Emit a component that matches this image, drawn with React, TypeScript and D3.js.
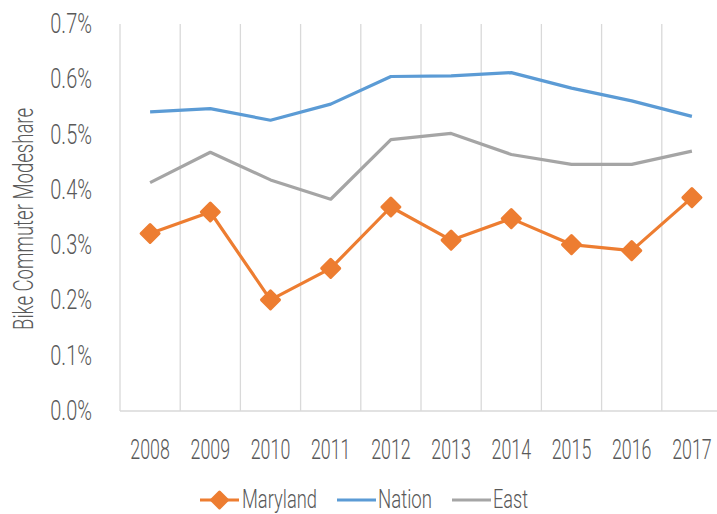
import React from "react";
import * as d3 from "d3";

const years = ["2008", "2009", "2010", "2011", "2012", "2013", "2014", "2015", "2016", "2017"];
const maryland = [0.321, 0.36, 0.201, 0.258, 0.369, 0.309, 0.348, 0.301, 0.29, 0.386];
const nation = [0.541, 0.547, 0.526, 0.555, 0.605, 0.606, 0.612, 0.584, 0.561, 0.533];
const east = [0.413, 0.468, 0.418, 0.383, 0.491, 0.502, 0.464, 0.446, 0.446, 0.47];
const yTicks = [0, 0.1, 0.2, 0.3, 0.4, 0.5, 0.6, 0.7];
const yTitle = "Bike Commuter Modeshare";

const W = 717;
const H = 514;
const left = 120;
const right = 722;
const top = 24;
const bottom = 411;
const FONT = "Roboto, 'Liberation Sans', sans-serif";
const TXT = "#595959";

const series = [
  { name: "Maryland", values: maryland, color: "#ED7D31", marker: true, lx: 200, tx: 242, tw: 75 },
  { name: "Nation", values: nation, color: "#5B9BD5", marker: false, lx: 337, tx: 378, tw: 54 },
  { name: "East", values: east, color: "#A5A5A5", marker: false, lx: 452, tx: 493, tw: 35 },
];

function Label({ x, y, text, anchor = "middle", size = 27, sx = 0.66, rotate = 0, len }: any) {
  return (
    <text
      transform={`translate(${x},${y}) rotate(${rotate}) scale(${len ? 1 : sx},1)`}
      textAnchor={anchor}
      fontFamily={FONT}
      fontWeight={300}
      fontSize={size}
      fill={TXT}
      textLength={len}
      lengthAdjust={len ? "spacingAndGlyphs" : undefined}
    >
      {text}
    </text>
  );
}

function diamond(cx: number, cy: number, r: number) {
  return `M${cx},${cy - r}L${cx + r},${cy}L${cx},${cy + r}L${cx - r},${cy}Z`;
}

export default function App() {
  const x = d3.scaleBand<string>().domain(years).range([left, right]);
  const y = d3.scaleLinear().domain([0, 0.7]).range([bottom, top]);
  const cx = (d: string) => (x(d) as number) + x.bandwidth() / 2;
  const line = d3
    .line<number>()
    .x((_, i) => cx(years[i]))
    .y((v) => y(v));

  const gridXs = years.map((d) => x(d) as number).concat([right]);
  const ly = 500;

  return (
    <svg width={W} height={H} style={{ position: "absolute", left: 0, top: 0, background: "#fff" }}>
      {gridXs.map((gx, i) => (
        <line key={i} x1={gx} x2={gx} y1={top} y2={bottom} stroke="#D9D9D9" strokeWidth={1.3} />
      ))}
      <line x1={left} x2={right} y1={bottom} y2={bottom} stroke="#D9D9D9" strokeWidth={1.3} />

      {yTicks.map((t) => (
        <Label key={t} x={92} y={y(t) + 9} text={`${t.toFixed(1)}%`} anchor="end" sx={0.74} />
      ))}
      {years.map((d) => (
        <Label key={d} x={cx(d)} y={459} text={d} sx={0.66} />
      ))}
      <Label x={33} y={330} text={yTitle} rotate={-90} anchor="start" len={222} />

      {series.map((s) => (
        <g key={s.name}>
          <path d={line(s.values) as string} fill="none" stroke={s.color} strokeWidth={3.2} strokeLinejoin="round" />
          {s.marker &&
            s.values.map((v, i) => (
              <path
                key={i}
                d={diamond(cx(years[i]), y(v), 9)}
                fill={s.color}
                stroke={s.color}
                strokeWidth={3}
                strokeLinejoin="round"
              />
            ))}
        </g>
      ))}

      {series.map((s) => (
        <g key={"lg" + s.name}>
          <line x1={s.lx} x2={s.lx + 39} y1={ly} y2={ly} stroke={s.color} strokeWidth={3.2} />
          {s.marker && (
            <path
              d={diamond(s.lx + 19.5, ly, 8)}
              fill={s.color}
              stroke={s.color}
              strokeWidth={3}
              strokeLinejoin="round"
            />
          )}
          <Label x={s.tx} y={508} text={s.name} anchor="start" len={s.tw} size={25} />
        </g>
      ))}
    </svg>
  );
}
